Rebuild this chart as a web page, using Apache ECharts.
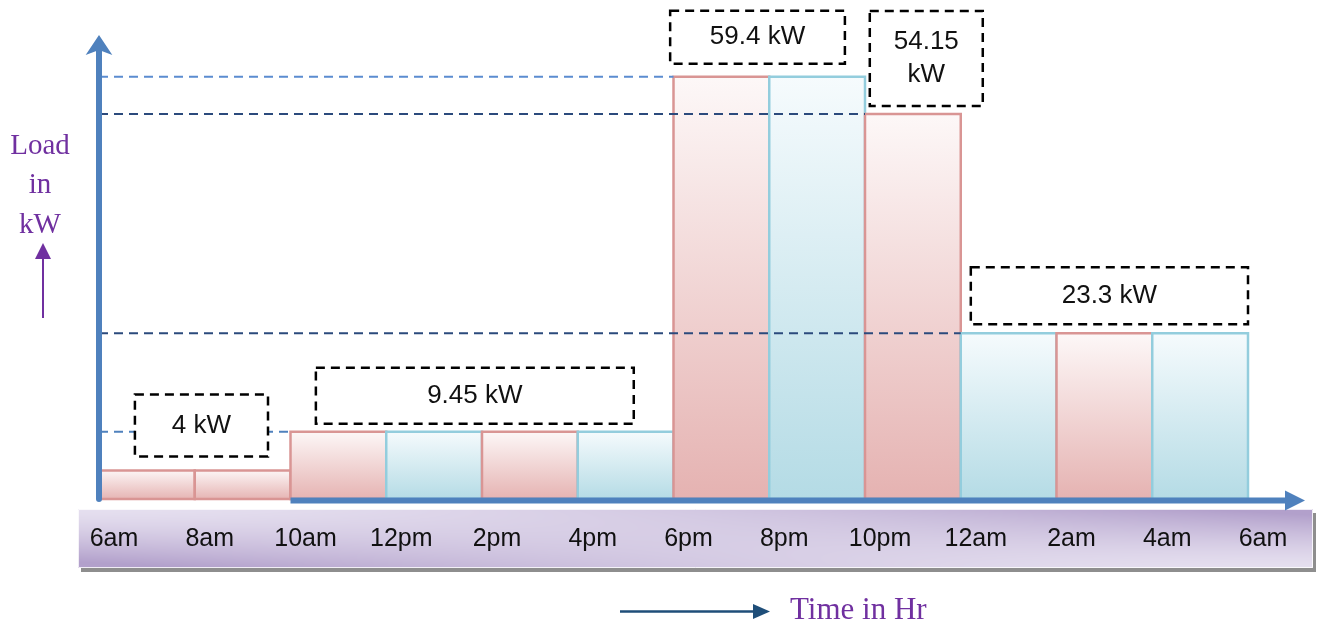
<!DOCTYPE html>
<html>
<head>
<meta charset="utf-8">
<title>Load in kW over the day</title>
<script src="https://cdn.jsdelivr.net/npm/echarts@6/dist/echarts.min.js"></script>
<style>
  html, body { margin: 0; padding: 0; background: #ffffff; }
  #chart { width: 1328px; height: 628px; }
</style>
</head>
<body>
<div id="chart"></div>
<script>
// Tick labels for each two-hour boundary, 6am through 6am the next day
const timeLabels = ['6am', '8am', '10am', '12pm', '2pm', '4pm', '6pm', '8pm', '10pm', '12am', '2am', '4am', '6am'];

// Load (kW) held during each two-hour slot
const loads = [4, 4, 9.45, 9.45, 9.45, 9.45, 59.4, 59.4, 54.15, 23.3, 23.3, 23.3];

// Callout captions and the load level each one marks
const calloutTexts = ['4 kW', '9.45 kW', '59.4 kW', '54.15\nkW', '23.3 kW'];
const calloutValues = [4, 9.45, 59.4, 54.15, 23.3];

// ---- styling / layout (not data) ----
const tones = ['rose', 'rose', 'rose', 'aqua', 'rose', 'aqua', 'rose', 'aqua', 'rose', 'aqua', 'rose', 'aqua'];
const TONE = {
  rose: { top: '#fdf8f8', bottom: '#e5b2b1', edge: '#d99594' },
  aqua: { top: '#f6fbfd', bottom: '#b4dbe5', edge: '#93cddd' }
};
// callout box: [left hour, right hour, box height px, gap above level px]
const calloutBox = [
  [0.75, 3.53, 62, 14],
  [4.53, 11.17, 56, 8],
  [11.93, 15.58, 53, 13],
  [16.10, 18.46, 95, 8],
  [18.21, 24.0, 57, 9]
];
const guideColors = ['#4f81bd', '#4f81bd', '#5b8cd0', '#2b4a7c', '#2b4a7c'];
const AXIS_BLUE = '#4f81bd';
const PURPLE = '#7030a0';
const SLOT = 2; // hours per bar

// Lavender band behind the time labels: darker at the lower left and upper right
const BAND = { x: 78, y: 509, w: 1235, h: 59 };
function makeBandImage() {
  const c = document.createElement('canvas');
  c.width = BAND.w;
  c.height = BAND.h;
  const ctx = c.getContext('2d');
  const img = ctx.createImageData(BAND.w, BAND.h);
  const light = [229, 223, 239];
  const dark = [178, 160, 203];
  for (let y = 0; y < BAND.h; y++) {
    const v = y / (BAND.h - 1);
    for (let x = 0; x < BAND.w; x++) {
      const u = x / (BAND.w - 1);
      let d = Math.pow(1 - u, 1.6) * Math.pow(v, 1.4) + Math.pow(u, 1.6) * Math.pow(1 - v, 1.4);
      d = Math.min(1, d * 1.15);
      const o = (y * BAND.w + x) * 4;
      img.data[o] = light[0] + (dark[0] - light[0]) * d;
      img.data[o + 1] = light[1] + (dark[1] - light[1]) * d;
      img.data[o + 2] = light[2] + (dark[2] - light[2]) * d;
      img.data[o + 3] = 255;
    }
  }
  ctx.putImageData(img, 0, 0);
  return c;
}

const chart = echarts.init(document.getElementById('chart'), null, { renderer: 'canvas' });

const barData = loads.map((v, i) => [i * SLOT, (i + 1) * SLOT, v]);

// dashed guide from the y axis to the first bar that reaches each level
const guideSeries = calloutValues.map((lvl, k) => {
  const end = loads.indexOf(lvl) * SLOT;
  return {
    type: 'line',
    data: [[0, lvl], [end, lvl]],
    symbol: 'none',
    silent: true,
    z: 4,
    lineStyle: { type: [9, 6], width: 2, color: guideColors[k] },
    animation: false
  };
});

const option = {
  animation: false,
  grid: { left: 99, right: 80, top: 44, bottom: 129 },
  xAxis: {
    type: 'value',
    min: 0,
    max: 24,
    interval: 2,
    z: 10,
    axisLine: { show: false },
    axisTick: { show: false },
    splitLine: { show: false },
    axisLabel: {
      margin: 28,
      padding: [0, 0, 0, 30],
      fontFamily: 'Liberation Sans',
      fontSize: 25,
      color: '#111111',
      showMinLabel: true,
      showMaxLabel: true,
      formatter: (v) => timeLabels[Math.round(v / SLOT)] || ''
    }
  },
  yAxis: {
    type: 'value',
    min: 0,
    max: 64,
    z: 10,
    axisLine: {
      show: true,
      symbol: ['none', 'arrow'],
      symbolSize: [20, 20],
      symbolOffset: [0, 9],
      lineStyle: { color: AXIS_BLUE, width: 6 }
    },
    axisTick: { show: false },
    axisLabel: { show: false },
    splitLine: { show: false }
  },
  graphic: [
    // time band under the plot, with its drop shadow
    {
      type: 'rect',
      z: -11,
      shape: { x: BAND.x + 3, y: BAND.y + 4, width: BAND.w, height: BAND.h },
      style: { fill: '#8e8e8e' }
    },
    {
      type: 'image',
      z: -10,
      style: { image: makeBandImage(), x: BAND.x, y: BAND.y, width: BAND.w, height: BAND.h }
    },
    {
      type: 'rect',
      z: -9,
      shape: { x: BAND.x + 0.5, y: BAND.y + 0.5, width: BAND.w - 1, height: BAND.h - 1 },
      style: { fill: 'none', stroke: 'rgba(255,255,255,0.8)', lineWidth: 1 }
    },
    // y-axis title
    { type: 'text', style: { text: 'Load', x: 40, y: 146.5, align: 'center', verticalAlign: 'middle', fontFamily: 'Liberation Serif', fontSize: 29, fill: PURPLE } },
    { type: 'text', style: { text: 'in', x: 40, y: 185.5, align: 'center', verticalAlign: 'middle', fontFamily: 'Liberation Serif', fontSize: 29, fill: PURPLE } },
    { type: 'text', style: { text: 'kW', x: 40, y: 225.5, align: 'center', verticalAlign: 'middle', fontFamily: 'Liberation Serif', fontSize: 29, fill: PURPLE } },
    { type: 'line', shape: { x1: 43, y1: 318, x2: 43, y2: 257 }, style: { stroke: PURPLE, lineWidth: 2 } },
    { type: 'polygon', shape: { points: [[43, 243], [35, 259], [51, 259]] }, style: { fill: PURPLE } },
    // x-axis title
    { type: 'line', shape: { x1: 620, y1: 611.5, x2: 756, y2: 611.5 }, style: { stroke: '#1f4e79', lineWidth: 2.5 } },
    { type: 'polygon', shape: { points: [[770, 611.5], [753, 604], [753, 619]] }, style: { fill: '#1f4e79' } },
    { type: 'text', style: { text: 'Time in Hr', x: 790, y: 611, align: 'left', verticalAlign: 'middle', fontFamily: 'Liberation Serif', fontSize: 31, fill: PURPLE } }
  ],
  series: [
    // load bars, each spanning one two-hour slot
    {
      type: 'custom',
      name: 'Load',
      z: 2,
      data: barData,
      encode: { x: [0, 1], y: 2 },
      renderItem: (params, api) => {
        const i = params.dataIndex;
        const tl = api.coord([api.value(0), api.value(2)]);
        const br = api.coord([api.value(1), 0]);
        const t = TONE[tones[i]];
        return {
          type: 'rect',
          shape: { x: tl[0], y: tl[1], width: br[0] - tl[0], height: br[1] - tl[1] },
          style: {
            fill: new echarts.graphic.LinearGradient(0, 0, 0, 1, [
              { offset: 0, color: t.top },
              { offset: 1, color: t.bottom }
            ]),
            stroke: t.edge,
            lineWidth: 2.5
          }
        };
      }
    },
    // time axis arrow along the base of the bars
    {
      type: 'custom',
      name: 'timeAxis',
      z: 3,
      silent: true,
      data: [[4, 24, 0]],
      encode: { x: [0, 1], y: 2 },
      renderItem: (params, api) => {
        const a = api.coord([api.value(0), api.value(2)]);
        const b = api.coord([api.value(1), api.value(2)]);
        const y = a[1] + 1.5;
        return {
          type: 'group',
          children: [
            { type: 'line', shape: { x1: a[0], y1: y, x2: b[0] + 40, y2: y }, style: { stroke: AXIS_BLUE, lineWidth: 6 } },
            { type: 'polygon', shape: { points: [[b[0] + 57, y], [b[0] + 37, y - 10], [b[0] + 37, y + 10]] }, style: { fill: AXIS_BLUE } }
          ]
        };
      }
    },
    ...guideSeries,
    // dashed callout boxes stating each load level
    {
      type: 'custom',
      name: 'callouts',
      z: 6,
      silent: true,
      data: calloutValues.map((v, k) => [k, v]),
      encode: { y: 1 },
      renderItem: (params, api) => {
        const k = params.dataIndex;
        const box = calloutBox[k];
        const lvl = api.value(1);
        const left = api.coord([box[0], lvl]);
        const right = api.coord([box[1], lvl]);
        const bottom = left[1] - box[3];
        const top = bottom - box[2];
        return {
          type: 'group',
          children: [
            {
              type: 'rect',
              shape: { x: left[0], y: top, width: right[0] - left[0], height: box[2] },
              style: { fill: '#ffffff', stroke: '#000000', lineWidth: 2.5, lineDash: [9, 6] }
            },
            {
              type: 'text',
              style: {
                text: calloutTexts[k],
                x: (left[0] + right[0]) / 2,
                y: top + box[2] / 2,
                align: 'center',
                verticalAlign: 'middle',
                fontFamily: 'Liberation Sans',
                fontSize: 26,
                lineHeight: 33,
                fill: '#111111'
              }
            }
          ]
        };
      }
    }
  ]
};

chart.setOption(option);
</script>
</body>
</html>
